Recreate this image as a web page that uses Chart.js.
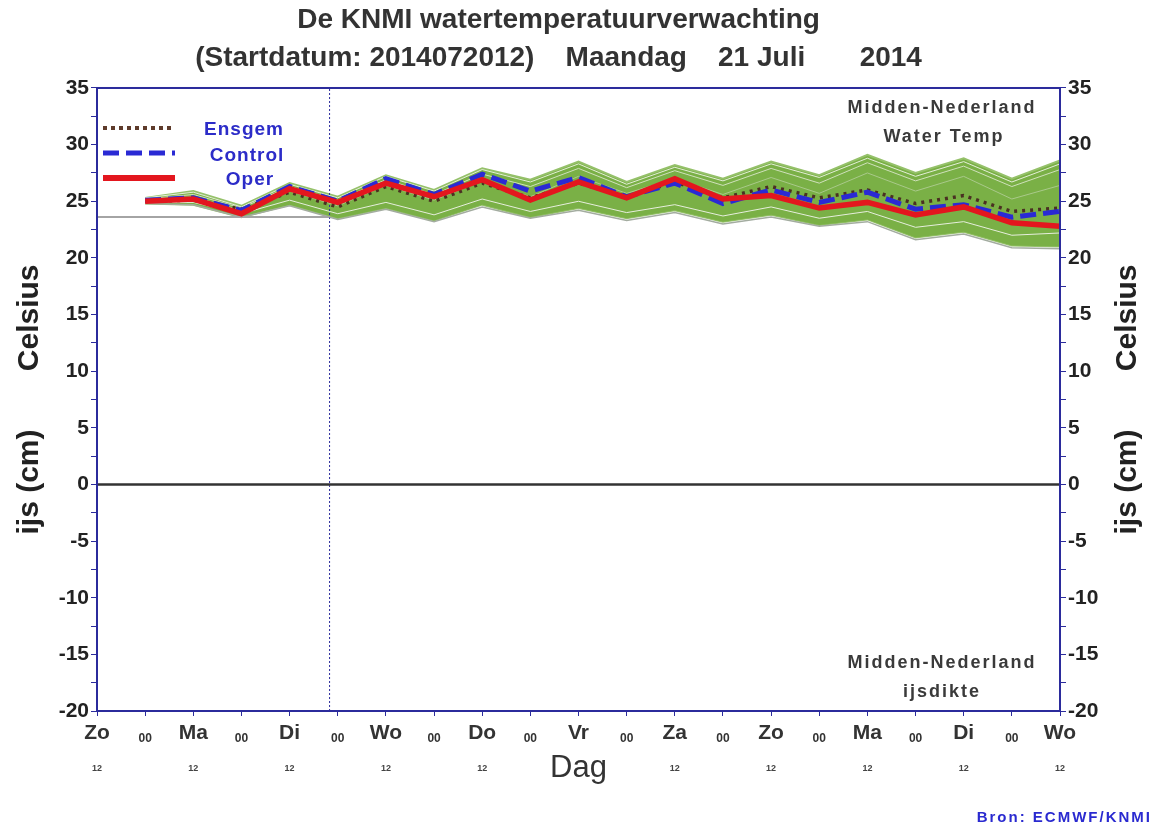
<!DOCTYPE html>
<html>
<head>
<meta charset="utf-8">
<title>KNMI watertemperatuurverwachting</title>
<script src="https://cdn.jsdelivr.net/npm/chart.js@4.4.1/dist/chart.umd.min.js"></script>
<style>
  html, body { margin: 0; padding: 0; background: #fff; }
  #wrap { width: 1156px; height: 829px; }
</style>
</head>
<body>
<div id="wrap"><canvas id="chart"></canvas></div>
<script>
// half-day steps after Zo 20 juli 12 UTC
const halfDays = [1, 2, 3, 4, 5, 6, 7, 8, 9, 10, 11, 12, 13, 14, 15, 16, 17, 18, 19, 20];

const oper    = [25.0, 25.2, 23.9, 26.1, 24.9, 26.6, 25.4, 26.9, 25.1, 26.7, 25.3, 27.0, 25.2, 25.5, 24.4, 24.9, 23.8, 24.5, 23.1, 22.8];
const control = [25.1, 25.3, 24.2, 26.3, 25.0, 27.0, 25.6, 27.4, 25.9, 27.1, 25.4, 26.6, 24.8, 26.0, 24.9, 25.8, 24.3, 24.7, 23.6, 24.1];
const ensgem  = [25.0, 25.1, 24.3, 25.8, 24.5, 26.3, 25.0, 26.6, 25.3, 26.6, 25.4, 26.7, 25.3, 26.3, 25.3, 26.0, 24.8, 25.5, 24.1, 24.4];

// ensemble envelope and a few single members
const ensMax  = [25.3, 25.9, 24.6, 26.6, 25.4, 27.3, 26.0, 27.9, 26.9, 28.5, 26.7, 28.2, 27.0, 28.5, 27.3, 29.1, 27.5, 28.8, 27.0, 28.6];
const ensMin  = [24.8, 24.7, 23.6, 24.7, 23.5, 24.4, 23.3, 24.7, 23.6, 24.4, 23.5, 24.2, 23.2, 23.8, 22.9, 23.4, 21.8, 22.3, 21.1, 21.0];
const memberA = [25.3, 25.8, 24.5, 26.5, 25.3, 27.2, 25.9, 27.8, 26.7, 28.3, 26.5, 28.0, 26.8, 28.3, 27.1, 28.8, 27.2, 28.5, 26.7, 28.3];
const memberB = [25.2, 25.6, 24.4, 26.3, 25.1, 26.9, 25.6, 27.4, 26.3, 27.9, 26.2, 27.7, 26.4, 27.9, 26.6, 28.4, 26.8, 28.1, 26.3, 27.8];
const memberC = [25.1, 25.4, 24.2, 25.9, 24.6, 26.4, 25.1, 26.8, 25.4, 27.2, 25.7, 27.0, 25.6, 27.1, 25.7, 27.5, 25.9, 27.2, 25.2, 26.4];
const memberD = [24.9, 24.9, 23.9, 25.1, 23.9, 24.9, 23.8, 25.2, 24.1, 25.0, 24.0, 24.7, 23.7, 24.5, 23.5, 24.1, 22.7, 23.2, 22.0, 22.2];
const memberE = [24.8, 24.7, 23.6, 24.6, 23.4, 24.3, 23.2, 24.5, 23.5, 24.2, 23.3, 24.0, 23.0, 23.6, 22.8, 23.2, 21.6, 22.1, 20.9, 20.8];

// observed water temp until analysis time
const obsHalfDays = [0, 4.83];
const observed    = [23.6, 23.6];
const analysisTime = 4.83;

// ice thickness (cm)
const iceHalfDays = [0, 1, 2, 3, 4, 5, 6, 7, 8, 9, 10, 11, 12, 13, 14, 15, 16, 17, 18, 19, 20];
const ice         = [0, 0, 0, 0, 0, 0, 0, 0, 0, 0, 0, 0, 0, 0, 0, 0, 0, 0, 0, 0, 0];

// tick labels
const dayLabels = ['Zo', 'Ma', 'Di', 'Wo', 'Do', 'Vr', 'Za', 'Zo', 'Ma', 'Di', 'Wo'];
const nightLabel = '00';
const noonLabel = '12';
const xTitle = 'Dag';
const yTitle = 'ijs (cm)       Celsius';

const AXIS_BLUE = '#2b2b9c';
const FONT = "'Liberation Sans', Arial, sans-serif";
Chart.defaults.font.family = FONT;

const pts = (xs, ys) => xs.map((x, i) => ({ x: x, y: ys[i] }));
const line = (label, data, color, width, dash) => ({
  label: label, data: data, borderColor: color, borderWidth: width,
  borderDash: dash || [], pointRadius: 0, fill: false, tension: 0
});

const extras = {
  id: 'extras',
  afterDraw(chart) {
    const { ctx, chartArea: a } = chart;
    ctx.save();
    // frame round the plot
    ctx.strokeStyle = AXIS_BLUE;
    ctx.lineWidth = 2;
    ctx.strokeRect(a.left, a.top, a.right - a.left, a.bottom - a.top);

    // legend, top left
    const items = [
      ['Ensgem', '#5e3b2b', 4, [4, 4], 128, 130],
      ['Control', '#2a2ad4', 5, [16, 7], 153, 156],
      ['Oper', '#e3161e', 6, [], 178, 180]
    ];
    ctx.textAlign = 'center';
    ctx.textBaseline = 'middle';
    ctx.font = 'bold 19px ' + FONT;
    ctx.letterSpacing = '1px';
    items.forEach(([txt, col, w, dash, ly, ty], i) => {
      ctx.strokeStyle = col;
      ctx.lineWidth = w;
      ctx.setLineDash(dash);
      ctx.beginPath();
      ctx.moveTo(a.left + 6, ly);
      ctx.lineTo(a.left + 78, ly);
      ctx.stroke();
      ctx.fillStyle = '#2c2cc8';
      ctx.fillText(txt, 244 + i * 3, ty);
    });
    ctx.setLineDash([]);

    // area labels
    ctx.fillStyle = '#3a3a3a';
    ctx.font = 'bold 18px ' + FONT;
    ctx.letterSpacing = '2px';
    ctx.fillText('Midden-Nederland', 942, 108);
    ctx.fillText('Water Temp', 944, 137);
    ctx.fillText('Midden-Nederland', 942, 663);
    ctx.fillText('ijsdikte', 942, 692);

    // right axis title, reading upwards like the left one
    ctx.letterSpacing = '0px';
    ctx.fillStyle = '#222';
    ctx.font = 'bold 30px ' + FONT;
    ctx.translate(1128, (a.top + a.bottom) / 2);
    ctx.rotate(-Math.PI / 2);
    ctx.fillText(yTitle, 0, 0);
    ctx.restore();

    // source
    ctx.save();
    ctx.fillStyle = '#2a2ad0';
    ctx.font = 'bold 15px ' + FONT;
    ctx.letterSpacing = '2px';
    ctx.textAlign = 'right';
    ctx.textBaseline = 'middle';
    ctx.fillText('Bron: ECMWF/KNMI', 1152, 818);
    ctx.restore();
  }
};

const tickValue = c => (c && c.tick ? c.tick.value : null);

new Chart(document.getElementById('chart'), {
  type: 'line',
  data: {
    datasets: [
      line('Oper', pts(halfDays, oper), '#e3161e', 5.5),
      line('Control', pts(halfDays, control), '#2a2ad4', 5, [16, 7]),
      line('Ensgem', pts(halfDays, ensgem), '#4a3022', 3.5, [3, 5]),
      line('ijs', pts(iceHalfDays, ice), '#333333', 2.5),
      line('waarneming', pts(obsHalfDays, observed), '#a4a4a4', 2),
      line('analyse', [{ x: analysisTime, y: -20 }, { x: analysisTime, y: 35 }], AXIS_BLUE, 1, [2, 2]),
      line('lid A', pts(halfDays, memberA), '#e4eed8', 1),
      line('lid B', pts(halfDays, memberB), '#cfe0bb', 1),
      line('lid C', pts(halfDays, memberC), '#a9c98a', 1),
      line('lid D', pts(halfDays, memberD), '#e6eedc', 1),
      line('lid E', pts(halfDays, memberE), '#a3aca0', 1.5),
      Object.assign(line('max', pts(halfDays, ensMax), '#95c16a', 2), { fill: '+1', backgroundColor: '#7ab046' }),
      line('min', pts(halfDays, ensMin), '#95c16a', 2)
    ]
  },
  options: {
    responsive: true,
    maintainAspectRatio: false,
    animation: false,
    layout: { padding: 0 },
    plugins: {
      legend: { display: false },
      tooltip: { enabled: false },
      title: {
        display: true,
        text: [
          'De KNMI watertemperatuurverwachting     ',
          '(Startdatum: 2014072012)    Maandag    21 Juli       2014     '
        ],
        color: '#333',
        font: { size: 28, weight: 'bold', lineHeight: 1.357 },
        padding: { top: 1, bottom: 11 }
      }
    },
    scales: {
      x: {
        type: 'linear', position: 'bottom', min: 0, max: 20, weight: 0,
        afterFit: s => { s.height = 40; },
        border: { color: AXIS_BLUE, width: 2 },
        grid: { drawOnChartArea: false, color: AXIS_BLUE, tickLength: 5 },
        ticks: {
          stepSize: 1, autoSkip: false, maxRotation: 0, crossAlign: 'center', padding: 17,
          color: '#333',
          callback: v => (v % 2 === 0 ? dayLabels[v / 2] : nightLabel),
          font: c => (tickValue(c) % 2 ? { size: 12, weight: 'bold' } : { size: 21, weight: 'bold' })
        }
      },
      x2: {
        type: 'linear', position: 'bottom', min: 0, max: 20, weight: 1,
        afterFit: s => { s.height = 78; },
        border: { display: false },
        grid: { display: false },
        ticks: {
          stepSize: 1, autoSkip: false, maxRotation: 0, crossAlign: 'near', padding: 4,
          color: '#444',
          font: { size: 9, weight: 'bold' },
          callback: v => (v % 2 === 0 && v !== 10 ? noonLabel : '')
        },
        title: {
          display: true, text: xTitle, color: '#333',
          font: { size: 31, weight: 'normal' },
          padding: { top: 42, bottom: 42 }
        }
      },
      y: {
        type: 'linear', position: 'left', min: -20, max: 35,
        afterFit: s => { s.width = 97; },
        border: { color: AXIS_BLUE, width: 2 },
        grid: { drawOnChartArea: false, color: AXIS_BLUE, tickLength: 6 },
        ticks: {
          stepSize: 2.5, autoSkip: false, padding: 2, color: '#222',
          font: { size: 21, weight: 'bold' },
          callback: v => (v % 5 === 0 ? v : '')
        },
        title: {
          display: true, text: yTitle, color: '#222',
          font: { size: 30, weight: 'bold' },
          padding: { top: 12, bottom: 0 }
        }
      },
      y2: {
        type: 'linear', position: 'right', min: -20, max: 35,
        afterFit: s => { s.width = 96; },
        border: { color: AXIS_BLUE, width: 2 },
        grid: { drawOnChartArea: false, color: AXIS_BLUE, tickLength: 6 },
        ticks: {
          stepSize: 2.5, autoSkip: false, padding: 2, color: '#222',
          font: { size: 21, weight: 'bold' },
          callback: v => (v % 5 === 0 ? v : '')
        }
      }
    }
  },
  plugins: [extras]
});
</script>
</body>
</html>
